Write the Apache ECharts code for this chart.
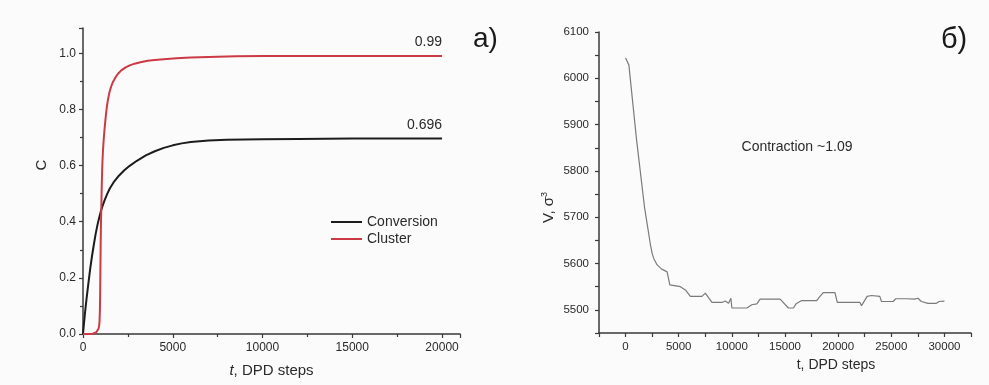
<!DOCTYPE html>
<html>
<head>
<meta charset="utf-8">
<script src="https://cdn.jsdelivr.net/npm/echarts@6/dist/echarts.min.js"></script>
<style>
  html, body { margin: 0; padding: 0; background: #fbfbfb; }
  #chart { width: 989px; height: 385px; }
</style>
</head>
<body>
<div id="chart"></div>
<script>
// panel a) - conversion and cluster fraction vs DPD steps
const convT = [0, 50, 100, 150, 200, 300, 400, 500, 600, 700, 800, 900, 1000, 1100, 1200, 1350, 1500, 1700, 2000, 2300, 2600, 3000, 3500, 4000, 4500, 5000, 5500, 6000, 7000, 8000, 9000, 10000, 12000, 15000, 20000];
const convC = [0, 0.035, 0.068, 0.098, 0.127, 0.18, 0.232, 0.277, 0.317, 0.355, 0.387, 0.414, 0.438, 0.458, 0.476, 0.499, 0.519, 0.54, 0.564, 0.583, 0.599, 0.617, 0.636, 0.651, 0.663, 0.672, 0.679, 0.684, 0.689, 0.692, 0.693, 0.694, 0.695, 0.696, 0.696];

const clusT = [0, 400, 550, 650, 750, 820, 870, 900, 920, 940, 955, 970, 985, 1000, 1020, 1045, 1075, 1110, 1150, 1200, 1260, 1320, 1390, 1470, 1570, 1670, 1800, 1950, 2130, 2350, 2600, 2875, 3200, 3600, 4000, 4500, 5200, 6000, 7000, 8500, 10000, 20000];
const clusC = [0, 0, 0.001, 0.003, 0.007, 0.012, 0.02, 0.03, 0.045, 0.08, 0.14, 0.23, 0.32, 0.39, 0.45, 0.53, 0.6, 0.65, 0.69, 0.73, 0.77, 0.805, 0.835, 0.86, 0.882, 0.898, 0.913, 0.927, 0.939, 0.949, 0.957, 0.963, 0.968, 0.973, 0.976, 0.979, 0.982, 0.985, 0.987, 0.989, 0.99, 0.99];

// panel б) - volume vs DPD steps
const volT = [0, 94, 310, 1030, 1780, 2345, 2500, 2650, 2970, 3400, 3910, 4160, 5160, 5630, 6100, 7190, 7500, 8130, 9070, 9380, 9690, 9910, 10000, 11410, 11880, 12350, 12660, 14540, 15320, 15790, 16040, 16570, 17980, 18290, 18600, 19700, 19920, 22050, 22200, 22730, 23140, 23920, 24080, 25170, 25420, 26420, 26580, 27200, 27510, 27830, 28450, 29240, 29500, 30000];
const volV = [6044, 6044, 6029, 5868, 5722, 5640, 5622, 5611, 5597, 5588, 5582, 5554, 5550, 5543, 5529, 5529, 5536, 5516, 5516, 5519, 5514, 5525, 5504, 5504, 5511, 5513, 5523, 5523, 5504, 5504, 5513, 5520, 5520, 5529, 5537, 5537, 5516, 5516, 5509, 5529, 5531, 5529, 5518, 5518, 5524, 5524, 5521, 5523, 5525, 5518, 5514, 5514, 5518, 5519];

const finalConv = 0.696;
const finalClus = 0.99;

const zip = (xs, ys) => xs.map((x, i) => [x, ys[i]]);

const FONT = '"Liberation Sans", Arial, sans-serif';
const AXIS_COLOR = '#3a3a3a';
const TEXT_COLOR = '#2a2a2a';

const axisCommon = {
  axisLine: { show: true, onZero: false, lineStyle: { color: AXIS_COLOR, width: 1.5 } },
  axisTick: { show: true, inside: false, length: 4, lineStyle: { color: AXIS_COLOR, width: 1.2 } },
  splitLine: { show: false },
  axisLabel: { color: TEXT_COLOR, fontSize: 12, fontFamily: FONT },
  nameTextStyle: { color: TEXT_COLOR, fontSize: 15, fontFamily: FONT }
};

// label sitting just above the right end of a curve
const endLabel = (x, y, text) => ({
  symbol: 'circle',
  symbolSize: 1,
  itemStyle: { color: 'rgba(0,0,0,0)' },
  label: {
    show: true,
    position: 'top',
    align: 'right',
    distance: 6,
    color: TEXT_COLOR,
    fontSize: 14,
    fontFamily: FONT,
    formatter: text
  },
  data: [{ coord: [x, y] }]
});

const chart = echarts.init(document.getElementById('chart'), null, { renderer: 'canvas' });

chart.setOption({
  backgroundColor: '#fbfbfb',
  animation: false,
  textStyle: { fontFamily: FONT },
  grid: [
    { left: 83, top: 28, width: 377, height: 306 },
    { left: 599, top: 32, width: 372, height: 301 }
  ],
  legend: {
    data: ['Conversion', 'Cluster'],
    orient: 'vertical',
    left: 326,
    top: 210,
    icon: 'rect',
    itemWidth: 31,
    itemHeight: 2,
    itemGap: 3,
    textStyle: { fontSize: 14, color: TEXT_COLOR, fontFamily: FONT, lineHeight: 14 }
  },
  xAxis: [
    {
      ...axisCommon,
      gridIndex: 0,
      type: 'value',
      min: 0,
      max: 21000,
      interval: 5000,
      minorTick: { show: true, splitNumber: 2, length: 3, lineStyle: { color: AXIS_COLOR, width: 1.2 } },
      axisLabel: {
        ...axisCommon.axisLabel,
        margin: 8,
        showMaxLabel: false,
        formatter: v => (v % 5000 === 0 && v <= 20000 ? String(v) : '')
      },
      name: '{i|t}, DPD steps',
      nameLocation: 'middle',
      nameGap: 29,
      nameTextStyle: {
        ...axisCommon.nameTextStyle,
        rich: { i: { fontStyle: 'italic', fontSize: 15, fontFamily: FONT, color: TEXT_COLOR } }
      }
    },
    {
      ...axisCommon,
      gridIndex: 1,
      type: 'value',
      min: -2500,
      max: 32500,
      interval: 2500,
      axisLabel: {
        ...axisCommon.axisLabel,
        fontSize: 11.5,
        margin: 8,
        formatter: v => (v % 5000 === 0 && v >= 0 && v <= 30000 ? String(v) : '')
      },
      name: 't, DPD steps',
      nameLocation: 'middle',
      nameGap: 21,
      nameTextStyle: { ...axisCommon.nameTextStyle, fontSize: 14, padding: [0, 0, 0, 102] }
    }
  ],
  yAxis: [
    {
      ...axisCommon,
      gridIndex: 0,
      type: 'value',
      min: 0,
      max: 1.09,
      interval: 0.2,
      minorTick: { show: true, splitNumber: 2, length: 3, lineStyle: { color: AXIS_COLOR, width: 1.2 } },
      axisLabel: {
        ...axisCommon.axisLabel,
        margin: 7,
        showMaxLabel: false,
        formatter: v => (v <= 1.01 ? v.toFixed(1) : '')
      },
      name: 'C',
      nameLocation: 'middle',
      nameGap: 34,
      nameTextStyle: { ...axisCommon.nameTextStyle, padding: [0, 0, 0, 32] }
    },
    {
      ...axisCommon,
      gridIndex: 1,
      type: 'value',
      min: 5450,
      max: 6100,
      interval: 50,
      axisLabel: {
        ...axisCommon.axisLabel,
        fontSize: 11.5,
        margin: 10,
        formatter: v => (v % 100 === 0 ? String(v) : '')
      },
      name: 'V, σ{sup|3}',
      nameLocation: 'middle',
      nameGap: 42,
      nameTextStyle: {
        ...axisCommon.nameTextStyle,
        padding: [0, 50, 0, 0],
        rich: { sup: { fontSize: 9, verticalAlign: 'top', padding: [0, 0, 8, 0], color: TEXT_COLOR, fontFamily: FONT } }
      }
    }
  ],
  series: [
    {
      name: 'Conversion',
      type: 'line',
      xAxisIndex: 0,
      yAxisIndex: 0,
      data: zip(convT, convC),
      showSymbol: false,
      color: '#1c1c1c',
      lineStyle: { width: 2, color: '#1c1c1c' },
      markPoint: endLabel(20000, finalConv, String(finalConv))
    },
    {
      name: 'Cluster',
      type: 'line',
      xAxisIndex: 0,
      yAxisIndex: 0,
      data: zip(clusT, clusC),
      showSymbol: false,
      color: '#cc3a45',
      lineStyle: { width: 2, color: '#cc3a45' },
      markPoint: endLabel(20000, finalClus, String(finalClus))
    },
    {
      name: 'Volume',
      type: 'line',
      xAxisIndex: 1,
      yAxisIndex: 1,
      data: zip(volT, volV),
      showSymbol: false,
      color: '#7a7a7a',
      lineStyle: { width: 1.2, color: '#7a7a7a' }
    }
  ],
  graphic: [
    {
      type: 'text', left: 473, top: 25,
      style: { text: 'а)', fontSize: 28, fontFamily: FONT, fill: '#1a1a1a' }
    },
    {
      type: 'text', left: 941, top: 25,
      style: { text: 'б)', fontSize: 29, fontFamily: FONT, fill: '#1a1a1a' }
    },
    {
      type: 'text', x: 797, y: 147,
      style: { text: 'Contraction ~1.09', fontSize: 14, fontFamily: FONT, fill: TEXT_COLOR, align: 'center', verticalAlign: 'middle' }
    }
  ]
});
</script>
</body>
</html>
